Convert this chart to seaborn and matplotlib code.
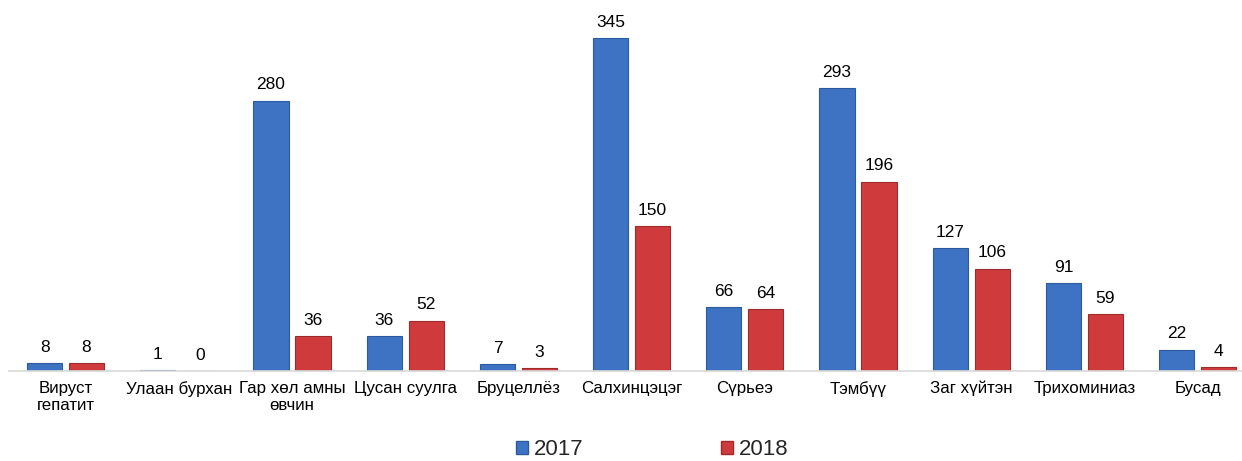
import matplotlib
matplotlib.use("Agg")
import matplotlib.pyplot as plt
import seaborn as sns
import pandas as pd
from matplotlib.patches import Patch

categories = ["Вируст\nгепатит", "Улаан бурхан", "Гар хөл амны\nөвчин", "Цусан суулга",
              "Бруцеллёз", "Салхинцэцэг", "Сүрьеэ", "Тэмбүү", "Заг хүйтэн",
              "Трихоминиаз", "Бусад"]
values_2017 = [8, 1, 280, 36, 7, 345, 66, 293, 127, 91, 22]
values_2018 = [8, 0, 36, 52, 3, 150, 64, 196, 106, 59, 4]
years = ["2017", "2018"]

df = pd.DataFrame({
    "cat": categories * 2,
    "val": values_2017 + values_2018,
    "year": [years[0]] * len(categories) + [years[1]] * len(categories),
})

sns.set_theme(style="white")
plt.rcParams['font.family'] = ['Liberation Sans', 'DejaVu Sans']

fig = plt.figure(figsize=(12.42, 4.61), dpi=100)
ax = fig.add_axes([9 / 1242, 90 / 461, 1233 / 1242, 361 / 461])

face = {"2017": "#3E73C4", "2018": "#CF3B3C"}
edge = {"2017": "#2B5A9E", "2018": "#9E2B2C"}

sns.barplot(data=df, x="cat", y="val", hue="year", palette=face, width=0.74, gap=0.16,
            ax=ax, legend=False, saturation=1, order=categories, hue_order=years)

for cont, yr in zip(ax.containers, years):
    for b in cont:
        b.set_edgecolor(edge[yr])
        b.set_linewidth(0.8)
    ax.bar_label(cont, padding=6, fontsize=12.5, color="#000000")

ax.set_xlim(-0.5, -0.5 + 1233 / 113.2)
ax.set_ylim(0, 374)
ax.set_yticks([])
ax.set_xlabel("")
ax.set_ylabel("")
for s in ["top", "right", "left"]:
    ax.spines[s].set_visible(False)
ax.spines["bottom"].set_color("#D9D9D9")
ax.spines["bottom"].set_linewidth(1.2)
ax.tick_params(axis="x", length=0, pad=7, labelsize=12.2, colors="#000000")

handles = [Patch(facecolor=face[y], edgecolor=edge[y]) for y in years]
fig.legend(handles, years, loc="center", bbox_to_anchor=(0.525, 0.024), ncol=2,
           frameon=False, fontsize=16, handlelength=0.55, handleheight=0.55,
           handletextpad=0.25, columnspacing=6.2, borderpad=0)

fig.savefig("out.png", dpi=100)
